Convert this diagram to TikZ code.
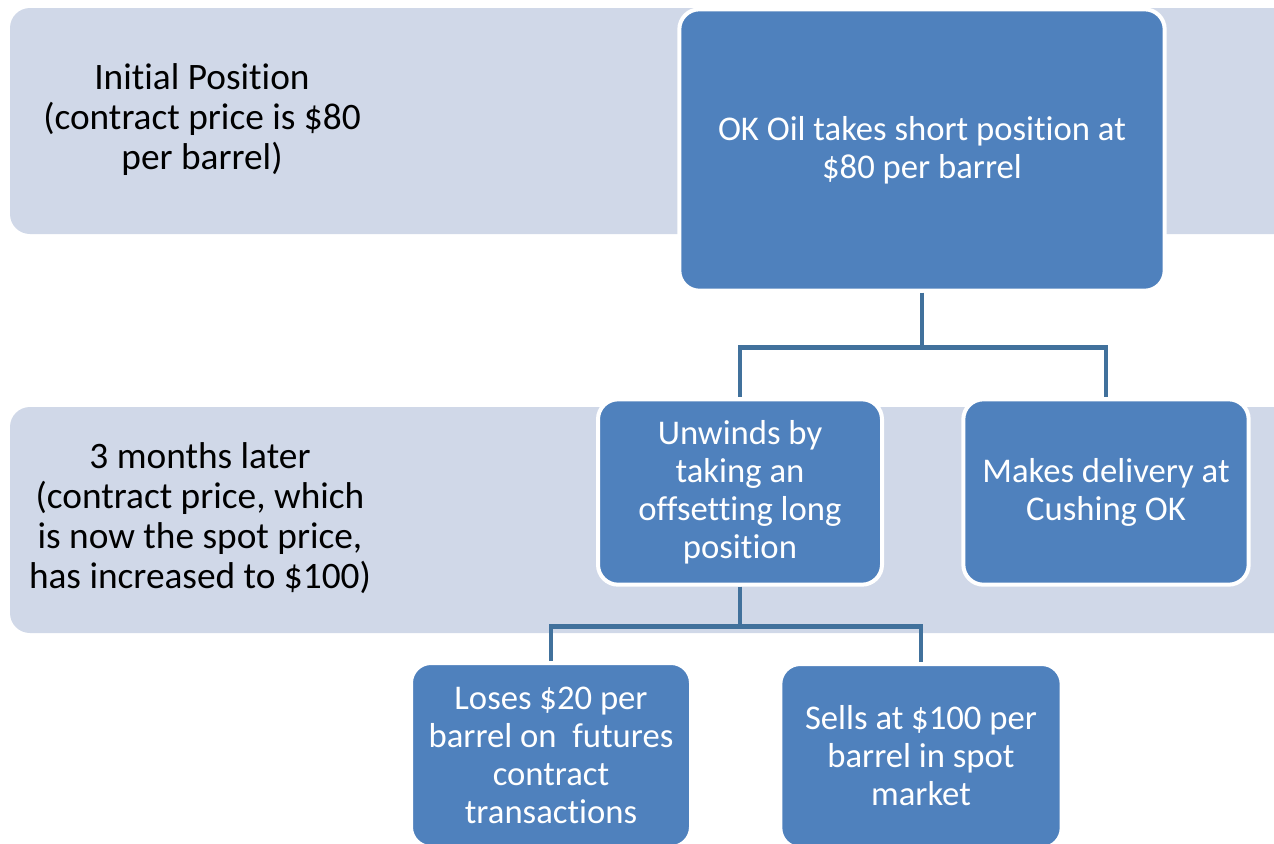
\documentclass[tikz,border=0pt]{standalone}
\usepackage{fontspec}
\setmainfont{Carlito}[Ligatures=NoCommon]
\definecolor{bandfill}{HTML}{D0D8E8}
\definecolor{boxfill}{HTML}{4F81BD}
\definecolor{linkblue}{HTML}{41719C}
\begin{document}
\begin{tikzpicture}[x=0.75pt,y=-0.75pt,
  every node/.style={font=\fontsize{26}{28.5}\selectfont},
  band/.style={fill=bandfill,rounded corners=15pt},
  bandlabel/.style={align=center,text=black,font=\fontsize{28}{30}\selectfont},
  stagebox/.style={draw=white,line width=3pt,fill=boxfill,rounded corners=15pt,
    text=white,align=center,inner sep=0pt},
  link/.style={draw=linkblue,line width=3.5pt}]
\useasboundingbox (0,0) rectangle (1274,843);
\clip (0,0) rectangle (1274,843);
% time bands
\fill[band] (10,8) rectangle (1300,234);
\fill[band] (10,407) rectangle (1300,633);
\node[bandlabel] (initial) at (202,120) {Initial Position\\(contract price is \$80\\per barrel)};
\node[bandlabel] (later) at (200,518) {3 months later\\(contract price, which\\is now the spot price,\\has increased to \$100)};
% boxes
\node[stagebox,minimum width=364pt,minimum height=211pt] (short) at (922,150) {OK Oil takes short position at\\\$80 per barrel};
\node[stagebox,minimum width=213pt,minimum height=139pt] (unwind) at (740,492) {Unwinds by\\taking an\\offsetting long\\position};
\node[stagebox,minimum width=214pt,minimum height=139pt] (deliver) at (1106,492) {Makes delivery at\\Cushing OK};
\node[stagebox,minimum width=210pt,minimum height=138pt] (loses) at (551,755) {Loses \$20 per\\barrel on\ \ futures\\contract\\transactions};
\node[stagebox,minimum width=211pt,minimum height=138pt] (sells) at (921,756) {Sells at \$100 per\\barrel in spot\\market};
% connectors
\draw[link] (short.south) -- ++(0,55) coordinate (split1) -| (unwind.north);
\draw[link] (split1) -| (deliver.north);
\draw[link] (unwind.south) -- ++(0,40) coordinate (split2) -| (loses.north);
\draw[link] (split2) -| (sells.north);
\end{tikzpicture}
\end{document}
